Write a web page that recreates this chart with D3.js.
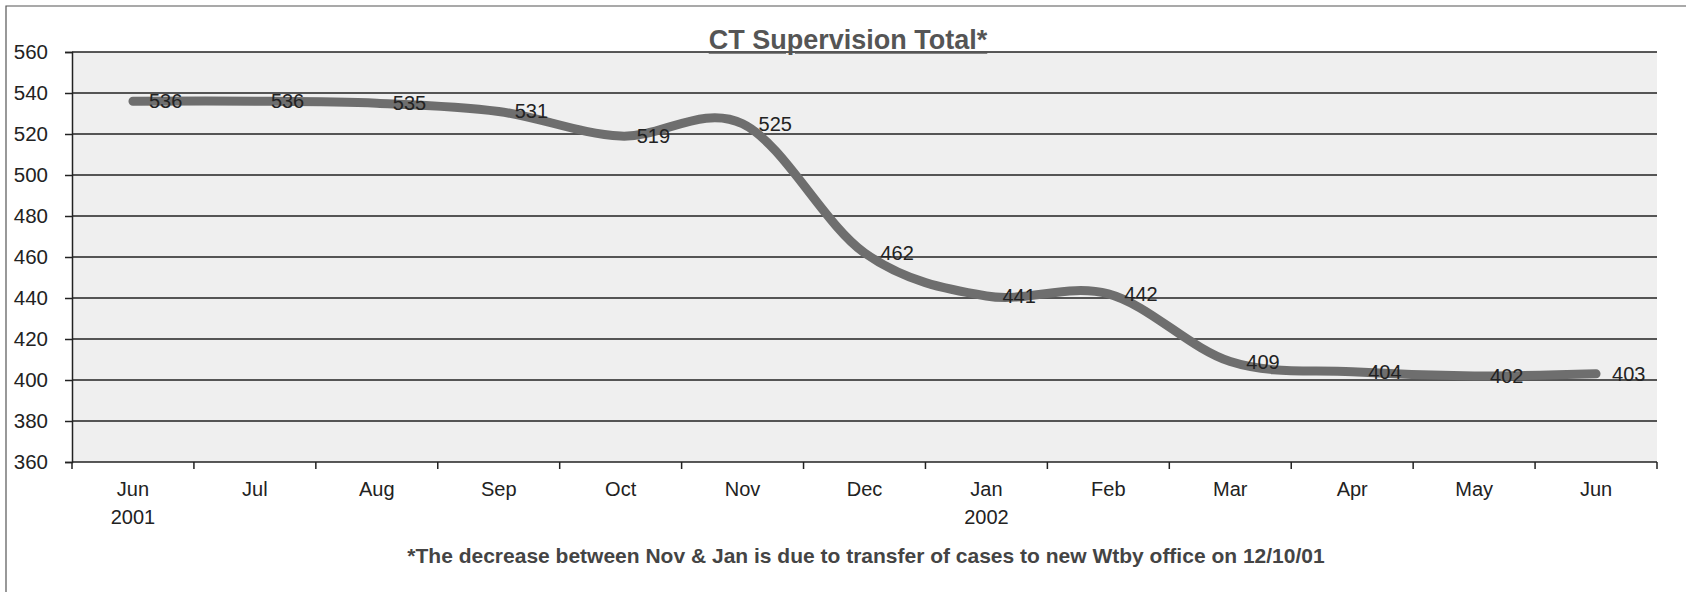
<!DOCTYPE html>
<html>
<head>
<meta charset="utf-8">
<script src="https://cdn.jsdelivr.net/npm/d3@7/dist/d3.min.js"></script>
<style>
  html, body { margin: 0; padding: 0; background: #fff; }
  svg { display: block; font-family: Arial, "Liberation Sans", sans-serif; }
</style>
</head>
<body>
<div id="chart"></div>
<script>
// CT Supervision Total - monthly totals, Jun 2001 to Jun 2002

const months = ['Jun', 'Jul', 'Aug', 'Sep', 'Oct', 'Nov', 'Dec', 'Jan', 'Feb', 'Mar', 'Apr', 'May', 'Jun'];
const years = ['2001', '', '', '', '', '', '', '2002', '', '', '', '', ''];
const totals = [536, 536, 535, 531, 519, 525, 462, 441, 442, 409, 404, 402, 403];
const yTicks = [360, 380, 400, 420, 440, 460, 480, 500, 520, 540, 560];

const title = 'CT Supervision Total*';
const footnote = '*The decrease between Nov & Jan is due to transfer of cases to new Wtby office on 12/10/01';

const width = 1686;
const height = 592;
const margin = { top: 52, right: 29, bottom: 130, left: 72 };
const innerWidth = width - margin.left - margin.right;
const innerHeight = height - margin.top - margin.bottom;

const svg = d3.select('#chart')
  .append('svg')
  .attr('width', width)
  .attr('height', height);

// outer frame (top and left edges show in the scan)
svg.append('path')
  .attr('d', `M6,${height} L6,6 L${width},6`)
  .attr('fill', 'none')
  .attr('stroke', '#555')
  .attr('stroke-width', 1.2);

const g = svg.append('g')
  .attr('transform', `translate(${margin.left},${margin.top})`);

const ids = months.map((m, i) => i);

const x = d3.scaleBand()
  .domain(ids)
  .range([0, innerWidth])
  .padding(0);

const y = d3.scaleLinear()
  .domain([360, 560])
  .range([innerHeight, 0]);

// plot area (light grey halftone in the scan)
g.append('rect')
  .attr('x', 0)
  .attr('y', 0)
  .attr('width', innerWidth)
  .attr('height', innerHeight)
  .attr('fill', '#efefef');

// gridlines + y axis
const yAxis = g.append('g')
  .call(d3.axisLeft(y).tickValues(yTicks).tickSize(7).tickPadding(17));
yAxis.select('.domain').attr('stroke', '#222').attr('stroke-width', 1.5);
yAxis.selectAll('.tick line').attr('stroke', '#222').attr('stroke-width', 1.5);
yAxis.selectAll('.tick text')
  .attr('font-size', 20.5)
  .attr('fill', '#222');

g.append('g')
  .selectAll('line')
  .data(yTicks)
  .enter().append('line')
  .attr('x1', 0)
  .attr('x2', innerWidth)
  .attr('y1', d => y(d))
  .attr('y2', d => y(d))
  .attr('stroke', '#222')
  .attr('stroke-width', 1.5);

// x axis: ticks between categories, labels centred on categories
const xAxis = g.append('g')
  .attr('transform', `translate(0,${innerHeight})`)
  .call(d3.axisBottom(x).tickSize(0).tickPadding(20).tickFormat(i => months[i]));
xAxis.select('.domain').remove();
xAxis.selectAll('.tick text')
  .attr('font-size', 20)
  .attr('fill', '#222')
  .each(function(i) {
    if (years[i]) {
      d3.select(this).append('tspan')
        .attr('x', 0)
        .attr('dy', '1.38em')
        .text(years[i]);
    }
  });

const bounds = ids.map(i => x(i)).concat([x(ids[ids.length - 1]) + x.bandwidth()]);
g.append('g')
  .selectAll('line')
  .data(bounds)
  .enter().append('line')
  .attr('x1', d => d)
  .attr('x2', d => d)
  .attr('y1', innerHeight)
  .attr('y2', innerHeight + 7)
  .attr('stroke', '#222')
  .attr('stroke-width', 1.5);

// the series line, smoothed like the spreadsheet
const line = d3.line()
  .x((d, i) => x(i) + x.bandwidth() / 2)
  .y(d => y(d))
  .curve(d3.curveCardinal.tension(0));

g.append('path')
  .datum(totals)
  .attr('d', line)
  .attr('fill', 'none')
  .attr('stroke', '#6e6e6e')
  .attr('stroke-width', 9)
  .attr('stroke-linecap', 'round')
  .attr('stroke-linejoin', 'round');

// data labels to the right of each point
g.selectAll('.chart-label')
  .data(totals)
  .enter().append('text')
  .attr('class', 'chart-label')
  .attr('x', (d, i) => x(i) + x.bandwidth() / 2 + 16)
  .attr('y', d => y(d))
  .attr('dy', '0.35em')
  .attr('font-size', 20)
  .attr('fill', '#222')
  .text(d => d);

// title, underlined and bold
svg.append('text')
  .attr('x', 848)
  .attr('y', 49)
  .attr('text-anchor', 'middle')
  .attr('font-size', 27)
  .attr('font-weight', 'bold')
  .attr('fill', '#555')
  .attr('text-decoration', 'underline')
  .text(title);

svg.append('text')
  .attr('x', 866)
  .attr('y', 563)
  .attr('text-anchor', 'middle')
  .attr('font-size', 21)
  .attr('font-weight', 'bold')
  .attr('fill', '#444')
  .text(footnote);
</script>
</body>
</html>
